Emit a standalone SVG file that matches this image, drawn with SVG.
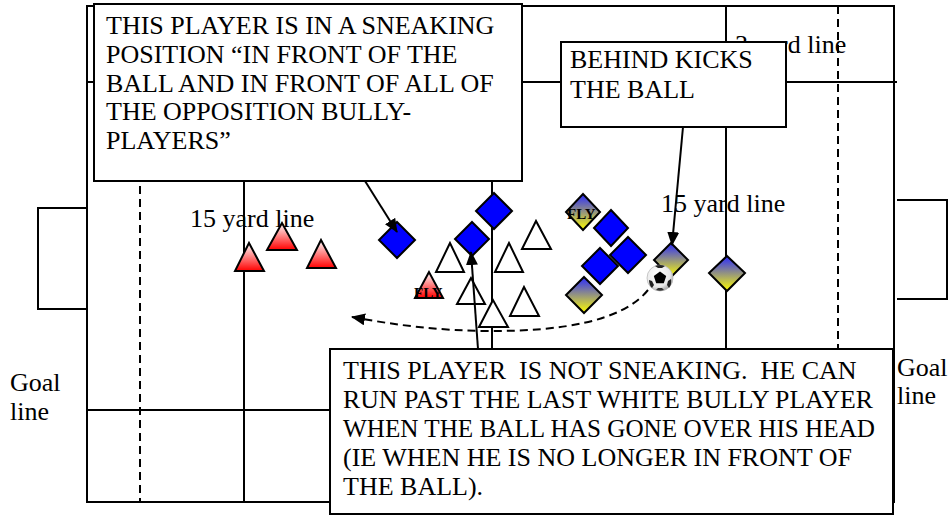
<svg xmlns="http://www.w3.org/2000/svg" width="950" height="516" viewBox="0 0 950 516">
  <style>
    .ln { stroke: #000; stroke-width: 2; fill: none; }
    .dash { stroke: #000; stroke-width: 2; fill: none; stroke-dasharray: 8 5; }
    .lbl { font-family: "Liberation Serif", "Times New Roman", serif; font-size: 26px; fill: #000; }
    .fly { font-family: "Liberation Serif", "Times New Roman", serif; font-size: 15px; font-weight: bold; fill: #000; }
    .box { fill: #fff; stroke: #000; stroke-width: 2; }
    .red { fill: url(#redGrad); stroke: #000; stroke-width: 2; }
    .white { fill: #fff; stroke: #000; stroke-width: 2; }
    .blue { fill: #0000ff; stroke: #000; stroke-width: 2; }
    .by { fill: url(#byGrad); stroke: #000; stroke-width: 2; }
    .arr { stroke: #000; stroke-width: 2; fill: none; marker-end: url(#head); }
  </style>
  <defs>
    <linearGradient id="redGrad" x1="0" y1="0" x2="0" y2="1">
      <stop offset="0" stop-color="#ffffff"/>
      <stop offset="1" stop-color="#ff0000"/>
    </linearGradient>
    <linearGradient id="byGrad" x1="0" y1="0" x2="0" y2="1">
      <stop offset="0" stop-color="#2a2aff"/>
      <stop offset="1" stop-color="#ffff00"/>
    </linearGradient>
    <radialGradient id="ballGrad" cx="0.4" cy="0.35" r="0.7">
      <stop offset="0" stop-color="#ffffff"/>
      <stop offset="0.7" stop-color="#e8e8e8"/>
      <stop offset="1" stop-color="#9a9a9a"/>
    </radialGradient>
    <marker id="head" markerUnits="userSpaceOnUse" markerWidth="14" markerHeight="12" refX="13" refY="6" orient="auto">
      <path d="M0,0 L14,6 L0,12 z" fill="#000"/>
    </marker>
  </defs>

  <rect width="950" height="516" fill="#fff"/>

  <!-- pitch markings -->
  <g id="pitch">
    <rect class="ln" x="87" y="6" width="807" height="496"/>
    <line class="ln" x1="87" y1="82" x2="897" y2="82"/>
    <line class="ln" x1="87" y1="410" x2="894" y2="410"/>
    <line class="ln" x1="244" y1="6" x2="244" y2="502"/>
    <line class="ln" x1="492" y1="6" x2="492" y2="502"/>
    <line class="ln" x1="726" y1="6" x2="726" y2="502"/>
    <line class="dash" x1="140" y1="186" x2="140" y2="502"/>
    <line class="dash" x1="838" y1="6" x2="838" y2="502"/>
  </g>

  <!-- goals -->
  <g id="goal-left">
    <polyline class="ln" points="88,208 38,208 38,309 88,309"/>
  </g>
  <g id="goal-right">
    <polyline class="ln" points="897,200 947,200 947,299 897,299"/>
  </g>

  <!-- line labels -->
  <g id="labels">
    <text class="lbl" x="190" y="227">15 yard line</text>
    <text class="lbl" x="661" y="212">15 yard line</text>
    <text class="lbl" x="735" y="53">3 yard line</text>
    <text class="lbl" x="10" y="391">Goal</text>
    <text class="lbl" x="10" y="420">line</text>
    <text class="lbl" x="897" y="376">Goal</text>
    <text class="lbl" x="897" y="404">line</text>
  </g>

  <!-- red team -->
  <g id="red-1"><polygon class="red" points="249,243 235,271 264,271"/></g>
  <g id="red-2"><polygon class="red" points="282,223 267,250 297,250"/></g>
  <g id="red-3"><polygon class="red" points="321,240 307,268 336,268"/></g>
  <g id="red-fly">
    <polygon class="red" points="429,272 415,298 443,298"/>
    <text class="fly" x="414" y="298">FLY</text>
  </g>

  <!-- white team -->
  <g id="white-1"><polygon class="white" points="450,243 436,272 464,272"/></g>
  <g id="white-2"><polygon class="white" points="471,278 457,304 485,304"/></g>
  <g id="white-3"><polygon class="white" points="536,221 522,249 551,249"/></g>
  <g id="white-4"><polygon class="white" points="509,243 495,272 523,272"/></g>
  <g id="white-5"><polygon class="white" points="524,287 510,316 539,316"/></g>
  <g id="white-6"><polygon class="white" points="493,300 479,327 508,327"/></g>

  <!-- blue team -->
  <g id="blue-1"><polygon class="blue" points="397,222 415,240 397,258 379,240"/></g>
  <g id="blue-2"><polygon class="blue" points="472,222 489,239 472,256 455,239"/></g>
  <g id="blue-3"><polygon class="blue" points="494,193 512,211 494,229 476,211"/></g>
  <g id="blue-4"><polygon class="blue" points="611,210 628,228 611,246 594,228"/></g>
  <g id="blue-5"><polygon class="blue" points="628,237 646,255 628,273 610,255"/></g>
  <g id="blue-6"><polygon class="blue" points="600,248 618,266 600,284 582,266"/></g>

  <!-- blue/yellow team -->
  <g id="by-fly">
    <polygon class="by" points="583,194 600,212 583,230 566,212"/>
    <text class="fly" x="567" y="219">FLY</text>
  </g>
  <g id="by-2"><polygon class="by" points="584,277 602,295 584,313 566,295"/></g>
  <g id="by-3"><polygon class="by" points="671,243 688,260 671,277 654,260"/></g>
  <g id="by-4"><polygon class="by" points="727,256 745,273 727,291 709,273"/></g>

  <!-- ball -->
  <g id="ball">
    <circle cx="660" cy="278" r="13" fill="url(#ballGrad)" stroke="#bbb" stroke-width="0.8"/>
    <polygon points="660,271.5 666.2,276 663.8,283.3 656.2,283.3 653.8,276" fill="#000"/>
    <path d="M655,266 Q660,264 665,266 L662,268 L658,268 z" fill="#222"/>
    <path d="M671,279 Q672,284 669,288 L667,285 L668,281 z" fill="#222"/>
    <path d="M649,280 Q649,285 652,288 L654,285 L652,281 z" fill="#222"/>
    <path d="M656,290 Q660,291.5 664,290 L662,288 L658,288 z" fill="#333"/>
  </g>

  <!-- connectors -->
  <g id="connectors">
    <line class="arr" x1="365" y1="181" x2="397" y2="232"/>
    <line class="arr" x1="683" y1="127" x2="672" y2="245"/>
    <line class="arr" x1="478" y1="349" x2="471" y2="252"/>
    <path class="dash" d="M648,290 C622,322 560,331 492,331 C440,331 395,325 352,317" marker-end="url(#head)"/>
  </g>

  <!-- callouts -->
  <g id="callout-sneaking">
    <rect class="box" x="94" y="4" width="428" height="177"/>
    <text class="lbl" x="106" y="34">THIS PLAYER IS IN A SNEAKING</text>
    <text class="lbl" x="106" y="63">POSITION “IN FRONT OF THE</text>
    <text class="lbl" x="106" y="92">BALL AND IN FRONT OF ALL OF</text>
    <text class="lbl" x="106" y="120">THE OPPOSITION BULLY-</text>
    <text class="lbl" x="106" y="149">PLAYERS”</text>
  </g>
  <g id="callout-behind">
    <rect class="box" x="561" y="42" width="225" height="85"/>
    <text class="lbl" x="570" y="68">BEHIND KICKS</text>
    <text class="lbl" x="570" y="98">THE BALL</text>
  </g>
  <g id="callout-not-sneaking">
    <rect class="box" x="330" y="349" width="563" height="165"/>
    <text class="lbl" x="343" y="379" xml:space="preserve">THIS PLAYER  IS NOT SNEAKING.  HE CAN</text>
    <text class="lbl" x="343" y="408" textLength="530" lengthAdjust="spacingAndGlyphs">RUN PAST THE LAST WHITE BULLY PLAYER</text>
    <text class="lbl" x="343" y="437" textLength="532" lengthAdjust="spacingAndGlyphs">WHEN THE BALL HAS GONE OVER HIS HEAD</text>
    <text class="lbl" x="343" y="466">(IE WHEN HE IS NO LONGER IN FRONT OF</text>
    <text class="lbl" x="343" y="495">THE BALL).</text>
  </g>
</svg>
